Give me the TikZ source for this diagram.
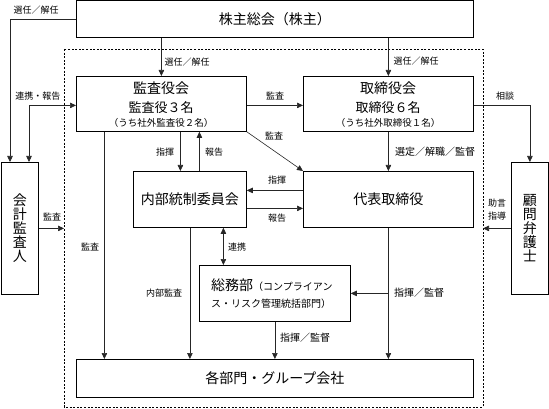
\documentclass[tikz,border=0pt]{standalone}
\usepackage{fontspec}
\setmainfont{Noto Sans CJK JP}
\usetikzlibrary{arrows.meta}
\begin{document}
\begin{tikzpicture}[x=1pt,y=-1pt,
  box/.style={draw, line width=0.8pt, anchor=north west, inner sep=0pt},
  conn/.style={line width=0.6pt, draw=black!85},
  arr/.style={conn, -{Triangle[length=6pt,width=5.5pt]}},
  darr/.style={conn, {Triangle[length=6pt,width=5.5pt]}-{Triangle[length=6pt,width=5.5pt]}},
  lbl/.style={font=\fontsize{9}{10}\selectfont, inner sep=0pt},
  lblw/.style={font=\fontsize{10}{11}\selectfont, inner sep=0pt},
  big/.style={font=\fontsize{14}{16}\selectfont, inner sep=0pt},
  mid/.style={font=\fontsize{13}{15}\selectfont, inner sep=0pt},
  sml/.style={font=\fontsize{9.5}{11}\selectfont, inner sep=0pt},
  vert/.style={font=\fontsize{14}{14}\selectfont, align=center, inner sep=0pt},
]
\useasboundingbox (0,0) rectangle (549,409);

% dashed frame
\draw[line width=0.6pt, dash pattern=on 2pt off 1.6pt] (64,49) rectangle (483,407);
\coordinate (dl) at (64,49);
\coordinate (dr) at (483,49);

% boxes
\node[box, minimum width=397pt, minimum height=36.5pt] (gm) at (76,0.5) {};
\node[big] (gmt) at (gm.center) {株主総会（株主）};

\node[box, minimum width=170pt, minimum height=55pt] (kansa) at (76,76) {};
\node[big] (kansa1) at (161,88) {監査役会};
\node[mid] (kansa2) at (161,108) {監査役３名};
\node[sml] (kansa3) at (161,123) {（うち社外監査役２名）};

\node[box, minimum width=170pt, minimum height=55pt] (tori) at (303,76) {};
\node[big] (tori1) at (388,88) {取締役会};
\node[mid] (tori2) at (388,108) {取締役６名};
\node[sml] (tori3) at (388,123) {（うち社外取締役１名）};

\node[box, minimum width=37pt, minimum height=132pt] (aud) at (1,162) {};
\node[vert] (audt) at (aud.center) {会\\計\\監\\査\\人};

\node[box, minimum width=37pt, minimum height=132pt] (law) at (511,162) {};
\node[vert] (lawt) at (law.center) {顧\\問\\弁\\護\\士};

\node[box, minimum width=113pt, minimum height=56pt] (naibu) at (133,171) {};
\node[big] (naibut) at (naibu.center) {内部統制委員会};

\node[box, minimum width=170pt, minimum height=56pt] (daihyo) at (303,171) {};
\node[big] (daihyot) at (daihyo.center) {代表取締役};

\node[box, minimum width=151pt, minimum height=56pt] (somu) at (199,265) {};
\node[anchor=west, inner sep=0pt] (somu1) at (211,285) {\fontsize{14}{16}\selectfont 総務部\fontsize{10}{12}\selectfont（コンプライアン};
\node[anchor=west, inner sep=0pt, font=\fontsize{10}{12}\selectfont] (somu2) at (211,304) {ス・リスク管理統括部門）};

\node[box, minimum width=397pt, minimum height=38pt] (kaku) at (76,359) {};
\node[big] (kakut) at (kaku.center) {各部門・グループ会社};

% connectors
\draw[arr] (gm.west) -| ([xshift=9pt]aud.north west);
\draw[darr] ([xshift=28pt]aud.north west) |- ([yshift=-1.5pt]kansa.west);
\draw[arr] (gm.south -| kansa.north) -- (kansa.north);
\draw[arr] (gm.south -| tori.north) -- (tori.north);
\draw[arr] ([yshift=-1.5pt]kansa.east) -- ([yshift=-1.5pt]tori.west);
\draw[arr] ([yshift=-1.5pt]tori.east) -| (law.north);
\draw[arr] (aud.east) -- (aud.east -| dl);
\draw[arr] (law.west) -- (law.west -| dr);

\draw[arr] ([xshift=19pt]kansa.south) -- ([xshift=-9.5pt]naibu.north);
\draw[arr] ([xshift=9.5pt]naibu.north) -- ([xshift=38pt]kansa.south);
\draw[arr] (kansa.south east) -- (daihyo.north west);
\draw[arr] (tori.south) -- (daihyo.north);
\draw[arr] ([yshift=9pt]daihyo.west) -- ([yshift=9pt]naibu.east);
\draw[arr] ([yshift=-9pt]naibu.east) -- ([yshift=-9pt]daihyo.west);
\draw[darr] ([xshift=33.5pt]naibu.south) -- ([xshift=-51.5pt]somu.north);

\draw[arr] ([xshift=-57pt]kansa.south) -- ([xshift=-170.5pt]kaku.north);
\draw[arr] (naibu.south) -- ([xshift=-85pt]kaku.north);
\draw[arr] (daihyo.south) -- ([xshift=113.5pt]kaku.north);
\coordinate (br) at (daihyo.south |- somu.east);
\draw[arr] (br) -- (somu.east);
\draw[arr] (somu.south) -- (kaku.north);

% labels
\node[lbl] (l1) at (36,10) {選任／解任};
\node[lbl] (l2) at (38,96) {連携・報告};
\node[lbl] (l3) at (52,217) {監査};
\node[lbl] (l4) at (187,62) {選任／解任};
\node[lbl] (l5) at (416,61) {選任／解任};
\node[lbl] (l6) at (275,96) {監査};
\node[lbl] (l7) at (505,96) {相談};
\node[lbl] (l8) at (274,136) {監査};
\node[lbl] (l9) at (165,152) {指揮};
\node[lbl] (l10) at (214,152) {報告};
\node[lblw] (l11) at (435,152) {選定／解職／監督};
\node[lbl] (l12) at (277,180) {指揮};
\node[lbl] (l13) at (277,218) {報告};
\node[lbl, align=center, font=\fontsize{9}{13}\selectfont] (l14) at (497,210) {助言\\指導};
\node[lbl] (l15) at (90,247) {監査};
\node[lbl] (l16) at (237,247) {連携};
\node[lbl] (l17) at (164,293) {内部監査};
\node[lblw] (l18) at (419,293) {指揮／監督};
\node[lblw] (l19) at (305,338) {指揮／監督};
\end{tikzpicture}
\end{document}
